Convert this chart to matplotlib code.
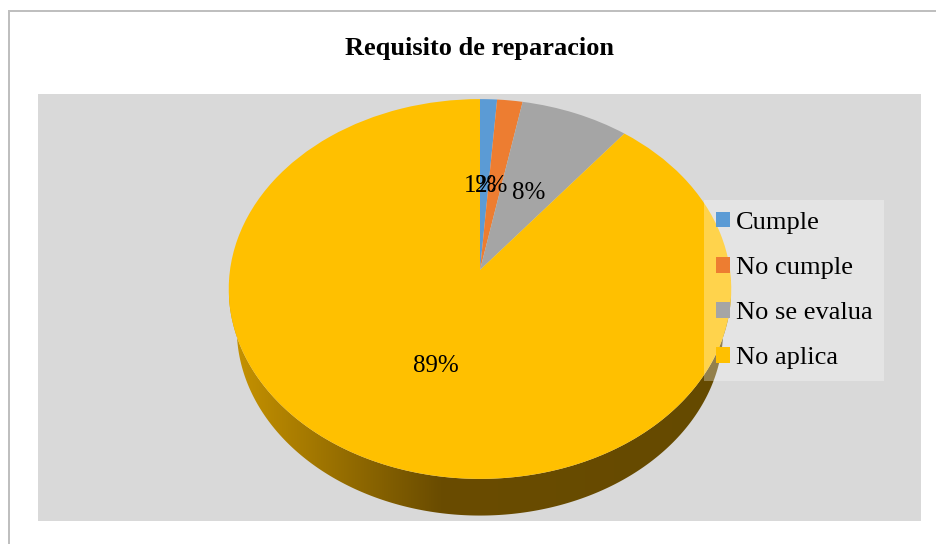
import numpy as np
import matplotlib
matplotlib.use('Agg')
import matplotlib.pyplot as plt
import matplotlib.transforms as mtrans
from matplotlib.colors import LinearSegmentedColormap
from matplotlib.patches import Rectangle, Polygon

plt.rcParams['font.family'] = ['Liberation Serif', 'DejaVu Sans']

categories = ['Cumple', 'No cumple', 'No se evalua', 'No aplica']
values = [1.2, 1.8, 7.7, 89.3]
colors = ['#5B9BD5', '#ED7D31', '#A5A5A5', '#FFC000']
title = 'Requisito de reparacion'

W, H = 937, 544
K = 0.1  # perspective of the tilted pie


class Persp(mtrans.Transform):
    """unit disc -> pixels, with the far side squeezed"""
    input_dims = 2
    output_dims = 2
    is_separable = False
    has_inverse = False

    def __init__(self, cx, cy, a, b):
        super().__init__()
        self.cx, self.cy, self.a, self.b = cx, cy, a, b

    def transform_non_affine(self, values):
        xy = np.asarray(values, dtype=float)
        w = 1 + K * xy[:, 1]
        return np.column_stack([self.cx + self.a * xy[:, 0] / w,
                                self.cy - self.b * xy[:, 1] / w])


top = Persp(480, 270, 250, 188)
low = Persp(480, 310, 242, 185)

fig = plt.figure(figsize=(W / 100, H / 100), dpi=100)
ax = fig.add_axes([0, 0, 1, 1])

wedges, _, autotexts = ax.pie(values, colors=colors, startangle=90, counterclock=False,
                              autopct='%.0f%%', textprops={'fontsize': 18})
ax.set_aspect('auto')
ax.set_xlim(0, W)
ax.set_ylim(H, 0)
ax.axis('off')

for w in wedges:
    w.set_transform(top + ax.transData)
    w.set_linewidth(0)
    w.set_zorder(3)

for t, pos in zip(autotexts, [(481, 186), (492, 186), (529, 193), (436, 366)]):
    t.set_position(pos)
    t.set_ha('center')
    t.set_va('center')
    t.set_zorder(4)

# chart frame and grey plot area
ax.add_patch(Rectangle((38, 94), 883, 427, fc='#D9D9D9', ec='none', zorder=0))
ax.add_patch(Rectangle((8, 10), 2.5, H, fc='#BFBFBF', ec='none', zorder=0))
ax.add_patch(Rectangle((8, 10), W, 1.5, fc='#BFBFBF', ec='none', zorder=0))

# rim of the pie, gradient clipped to the band between the two ellipses
th = np.linspace(np.pi * 0.96, np.pi * 2.04, 300)
disc = np.column_stack([np.cos(th), np.sin(th)])
rim = np.vstack([top.transform(disc), low.transform(disc)[::-1]])
cmap = LinearSegmentedColormap.from_list('rim', [(0, '#C89400'), (0.42, '#6A4C00'), (1, '#654A00')])
img = ax.imshow(np.linspace(0, 1, 256)[None, :], cmap=cmap, extent=(229, 731, 525, 280),
                aspect='auto', zorder=2)
clip = Polygon(rim, closed=True, transform=ax.transData, fc='none', ec='none')
ax.add_patch(clip)
img.set_clip_path(clip)
ax.set_xlim(0, W)
ax.set_ylim(H, 0)

ax.text(480, 48, title, ha='center', va='center', fontsize=19, fontweight='bold')

leg = ax.legend(wedges, categories, loc='upper left', bbox_to_anchor=(704, 200),
                bbox_transform=ax.transData, borderaxespad=0, fontsize=19,
                fancybox=False, facecolor='white', edgecolor='none', framealpha=0.3,
                handlelength=0.53, handleheight=0.53, handletextpad=0.23, labelspacing=0.87,
                borderpad=0.45)
leg.set_zorder(5)

fig.savefig('out.png', dpi=100)
